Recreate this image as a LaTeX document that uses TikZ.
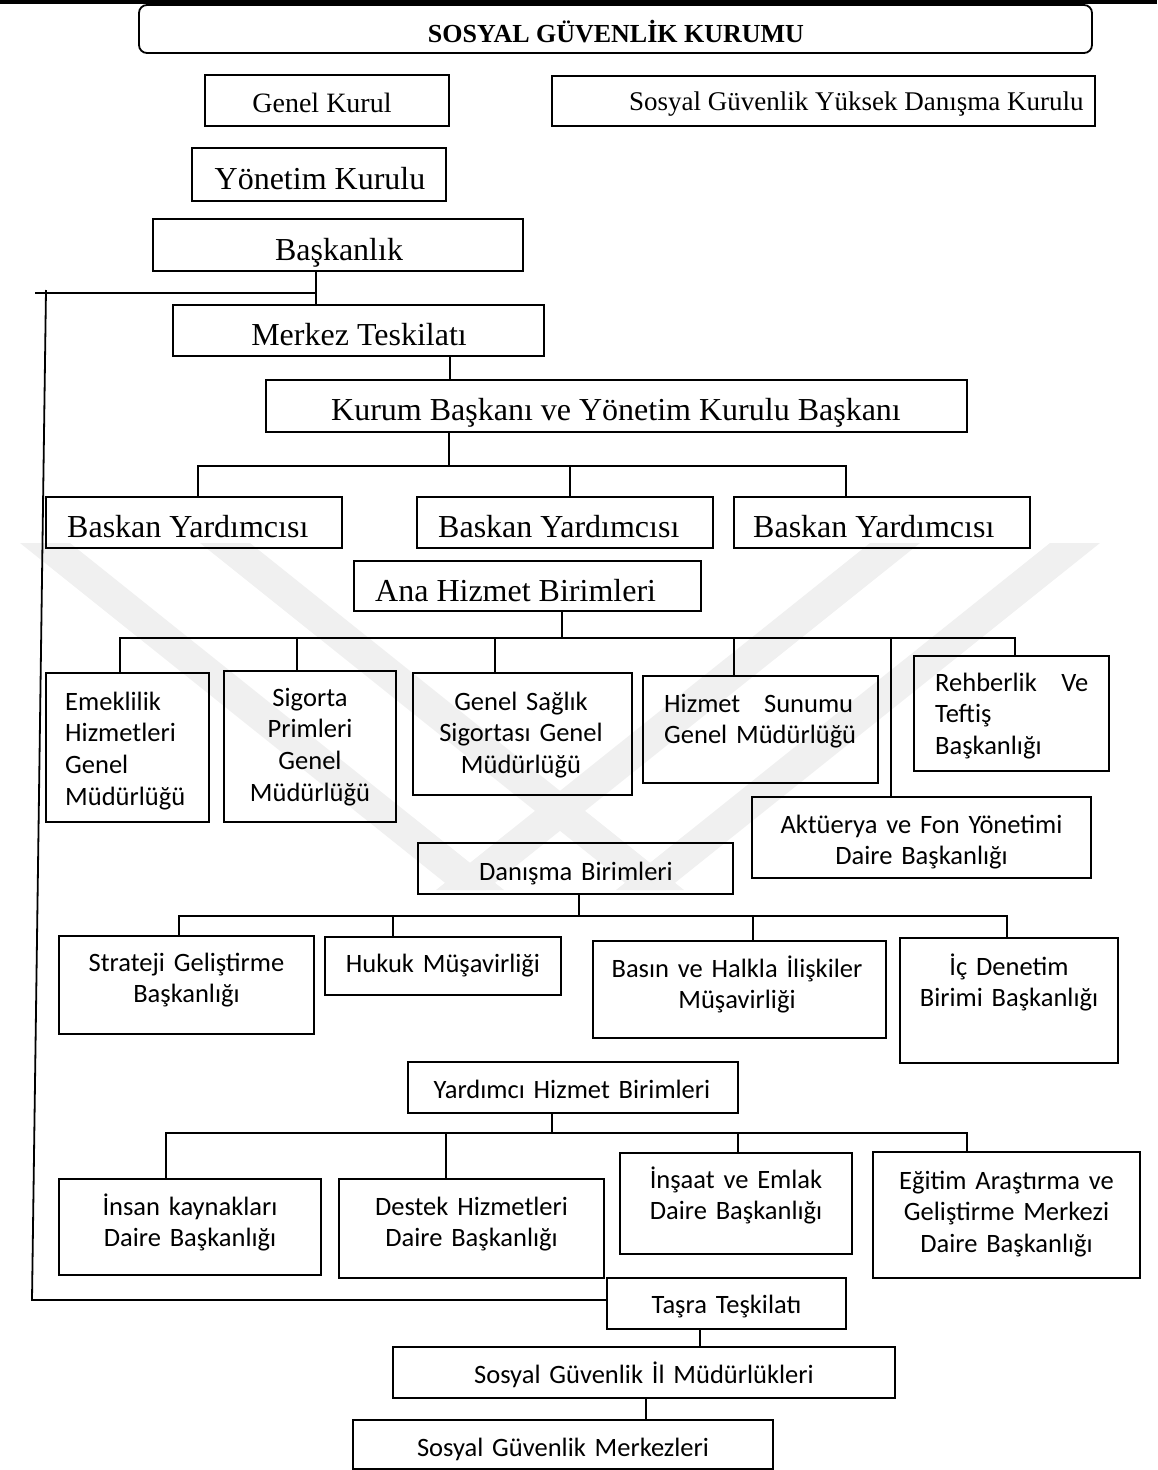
\documentclass[tikz,border=0pt]{standalone}
\usepackage{fontspec}
\setmainfont{Liberation Serif}
\newfontfamily\calfont{Carlito}
\newcommand\obox[6][tbox]{\node[#1,minimum width={(#5-#3)*1pt},minimum height={(#6-#4)*1pt},anchor=north west] (#2) at (#3,#4) {};}
\begin{document}
\begin{tikzpicture}[x=1pt,y=-1pt,
  tbox/.style={draw,line width=1.8pt,inner sep=0pt,outer sep=0pt},
  cbox/.style={draw,line width=2.4pt,inner sep=0pt,outer sep=0pt},
  conn/.style={line width=1.8pt},
  bus/.style={line width=2.4pt},
  wm/.style={fill=black!6,draw=none},
  tt/.style={inner sep=0pt,anchor=base,font=\fontsize{32}{38}\selectfont},
  ct/.style={inner sep=0pt,anchor=base,text width=560pt,align=center,font=\calfont\fontsize{26.5}{31.7}\selectfont},
  ctl/.style={ct,align=left,anchor=base west},
]
\useasboundingbox (0,0) rectangle (1157,1470);
% ---- faint watermark
\fill[wm] (20,543) -- (70,543) -- (504,890) -- (454,890) -- cycle;
\fill[wm] (200,543) -- (250,543) -- (684,890) -- (634,890) -- cycle;
\fill[wm] (1100,543) -- (1050,543) -- (616,890) -- (666,890) -- cycle;
\fill[wm] (920,543) -- (870,543) -- (436,890) -- (486,890) -- cycle;
\fill (0,0) rectangle (1157,4);
% ---- boxes
\obox[tbox,rounded corners=8pt]{title}{139}{5}{1092}{53}
\obox{gk}{205}{75}{449}{126}
\obox{sg}{552}{76}{1095}{126}
\obox{yon}{192}{148}{446}{201}
\obox{bask}{153}{219}{523}{271}
\obox{merk}{173}{305}{544}{356}
\obox{kurum}{266}{380}{967}{432}
\obox{by1}{46}{497}{342}{548}
\obox{by2}{417}{497}{713}{548}
\obox{by3}{734}{497}{1030}{548}
\obox{ana}{354}{561}{701}{611}
\obox[cbox]{emek}{46}{673}{209}{822}
\obox[cbox]{sig}{224}{671}{396}{822}
\obox[cbox]{gss}{413}{673}{632}{795}
\obox[cbox]{hiz}{643}{676}{878}{783}
\obox[cbox]{reh}{914}{656}{1109}{771}
\obox[cbox]{akt}{752}{797}{1091}{878}
\obox[cbox]{dan}{418}{843}{733}{894}
\obox[cbox]{str}{59}{936}{314}{1034}
\obox[cbox]{huk}{325}{937}{561}{995}
\obox[cbox]{bas}{593}{941}{886}{1038}
\obox[cbox]{ic}{900}{938}{1118}{1063}
\obox[cbox]{yar}{408}{1062}{738}{1113}
\obox[cbox]{ins}{59}{1179}{321}{1275}
\obox[cbox]{des}{339}{1179}{604}{1278}
\obox[cbox]{insa}{620}{1153}{852}{1254}
\obox[cbox]{egt}{873}{1152}{1140}{1278}
\obox[cbox]{tas}{607}{1278}{846}{1329}
\obox[cbox]{il}{393}{1347}{895}{1398}
\obox[cbox]{mrk}{353}{1420}{773}{1469}
% ---- texts (Times)
\node[tt,font=\fontsize{26}{30}\selectfont\bfseries] (t-title) at (616,42) {SOSYAL GÜVENLİK KURUMU};
\node[tt,font=\fontsize{28}{32}\selectfont] (t-gk) at (322,112) {Genel Kurul};
\node[tt,anchor=base west,font=\fontsize{27}{32}\selectfont] (t-sg) at (629,110) {Sosyal Güvenlik Yüksek Danışma Kurulu};
\node[tt] (t-yon) at (320,189) {Yönetim Kurulu};
\node[tt] (t-bask) at (339,260) {Başkanlık};
\node[tt] (t-merk) at (359,345) {Merkez Teskilatı};
\node[tt] (t-kurum) at (616,420) {Kurum Başkanı ve Yönetim Kurulu Başkanı};
\node[tt,anchor=base west] (t-by1) at (67,537) {Baskan Yardımcısı};
\node[tt,anchor=base west] (t-by2) at (438,537) {Baskan Yardımcısı};
\node[tt,anchor=base west] (t-by3) at (753,537) {Baskan Yardımcısı};
\node[tt,anchor=base west] (t-ana) at (375,601) {Ana Hizmet Birimleri};
% ---- texts (Calibri)
\node[ctl] (t-emek) at (65,710) {Emeklilik\\Hizmetleri\\Genel\\Müdürlüğü};
\node[ct] (t-sig) at (310,706) {Sigorta\\Primleri\\Genel\\Müdürlüğü};
\node[ct] (t-gss) at (521,710) {Genel Sağlık\\Sigortası Genel\\Müdürlüğü};
\node[ctl] (t-hiz) at (664,712) {\hbox to 189pt{Hizmet\hfill Sunumu}\\Genel Müdürlüğü};
\node[ctl] (t-reh) at (935,691) {\hbox to 153pt{Rehberlik\hfill Ve}\\Teftiş\\Başkanlığı};
\node[ct] (t-akt) at (921.5,833) {Aktüerya ve Fon Yönetimi\\Daire Başkanlığı};
\node[ct] (t-dan) at (576,880) {Danışma Birimleri};
\node[ct] (t-str) at (186.5,971) {Strateji Geliştirme\\Başkanlığı};
\node[ct] (t-huk) at (443,972) {Hukuk Müşavirliği};
\node[ct] (t-bas) at (737,977) {Basın ve Halkla İlişkiler\\Müşavirliği};
\node[ct] (t-ic) at (1009,975) {İç Denetim\\Birimi Başkanlığı};
\node[ct] (t-yar) at (572,1098) {Yardımcı Hizmet Birimleri};
\node[ct] (t-ins) at (190,1215) {İnsan kaynakları\\Daire Başkanlığı};
\node[ct] (t-des) at (471.5,1215) {Destek Hizmetleri\\Daire Başkanlığı};
\node[ct] (t-insa) at (736,1188) {İnşaat ve Emlak\\Daire Başkanlığı};
\node[ct] (t-egt) at (1006.5,1189) {Eğitim Araştırma ve\\Geliştirme Merkezi\\Daire Başkanlığı};
\node[ct] (t-tas) at (726.5,1313) {Taşra Teşkilatı};
\node[ct] (t-il) at (644,1383) {Sosyal Güvenlik İl Müdürlükleri};
\node[ct] (t-mrk) at (563,1456) {Sosyal Güvenlik Merkezleri};
% ---- connectors
\draw[conn] (bask.south -| 316,0) -- (merk.north -| 316,0);
\coordinate (jb) at (316,293);
\coordinate (lt) at (35,293);
\coordinate (vt) at (46,290);
\coordinate (vb) at (32,1300);
\draw[conn] (jb) -- (lt);
\draw[conn] (vt) -- (vb) -- (tas.west |- vb);
\draw[conn] (merk.south -| 450,0) -- (kurum.north -| 450,0);
\coordinate (kj) at (449,466);
\coordinate (kl) at (198,466);
\coordinate (km) at (570,466);
\coordinate (kr) at (846,466);
\draw[conn] (kurum.south -| kj) -- (kj);
\draw[conn] (by1.north -| kl) -- (kl) -- (kr) -- (by3.north -| kr);
\draw[conn] (km) -- (by2.north -| km);
\coordinate (aj) at (562,638);
\coordinate (al) at (120,638);
\coordinate (a2) at (297,638);
\coordinate (a3) at (495,638);
\coordinate (a4) at (734,638);
\coordinate (a5) at (891,638);
\coordinate (ar) at (1015,638);
\draw[conn] (ana.south -| aj) -- (aj);
\draw[conn] (emek.north -| al) -- (al) -- (ar) -- (reh.north -| ar);
\draw[conn] (a2) -- (sig.north -| a2);
\draw[conn] (a3) -- (gss.north -| a3);
\draw[conn] (a4) -- (hiz.north -| a4);
\draw[conn] (a5) -- (akt.north -| a5);
\coordinate (dj) at (579,916);
\coordinate (dl) at (179,916);
\coordinate (d2) at (393,916);
\coordinate (d3) at (753,916);
\coordinate (dr) at (1007,916);
\draw[conn] (dan.south -| dj) -- (dj);
\draw[bus] (str.north -| dl) -- (dl) -- (dr) -- (ic.north -| dr);
\draw[conn] (d2) -- (huk.north -| d2);
\draw[conn] (d3) -- (bas.north -| d3);
\coordinate (yj) at (552,1133);
\coordinate (yl) at (166,1133);
\coordinate (y2) at (446,1133);
\coordinate (y3) at (738,1133);
\coordinate (yr) at (967,1133);
\draw[conn] (yar.south -| yj) -- (yj);
\draw[bus] (ins.north -| yl) -- (yl) -- (yr) -- (egt.north -| yr);
\draw[conn] (y2) -- (des.north -| y2);
\draw[conn] (y3) -- (insa.north -| y3);
\draw[conn] (tas.south -| 700,0) -- (il.north -| 700,0);
\draw[conn] (il.south -| 646,0) -- (mrk.north -| 646,0);
\end{tikzpicture}
\end{document}
